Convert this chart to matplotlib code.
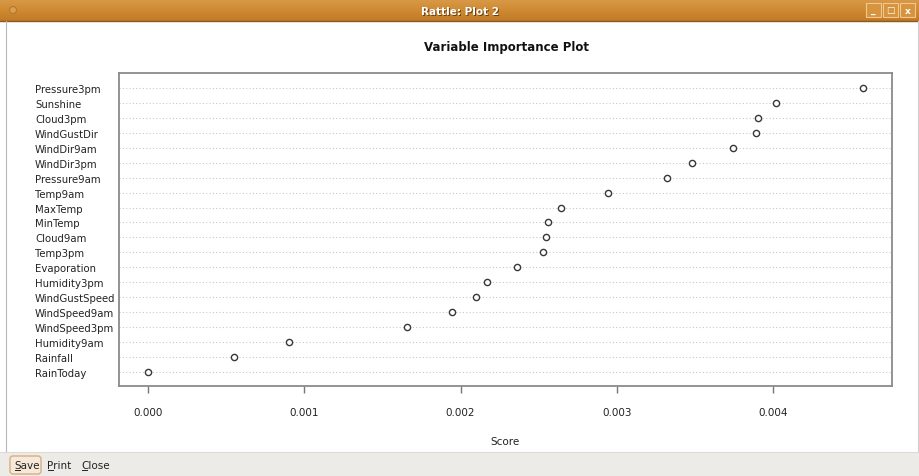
#!/usr/bin/env python3
import numpy as np
import matplotlib
matplotlib.use("Agg")
from matplotlib import pyplot as plt
from matplotlib.patches import Rectangle, FancyBboxPatch

W, H = 920, 477

variables = ["Pressure3pm", "Sunshine", "Cloud3pm", "WindGustDir", "WindDir9am",
             "WindDir3pm", "Pressure9am", "Temp9am", "MaxTemp", "MinTemp",
             "Cloud9am", "Temp3pm", "Evaporation", "Humidity3pm", "WindGustSpeed",
             "WindSpeed9am", "WindSpeed3pm", "Humidity9am", "Rainfall", "RainToday"]
scores = [0.004575, 0.004018, 0.003900, 0.003890, 0.003745,
          0.003480, 0.003320, 0.002940, 0.002642, 0.002559,
          0.002546, 0.002530, 0.002361, 0.002169, 0.002098,
          0.001945, 0.001657, 0.000899, 0.000550, 0.000000]
xticks = [0.000, 0.001, 0.002, 0.003, 0.004]
xtick_labels = ["0.000", "0.001", "0.002", "0.003", "0.004"]


def box(x0, y0, x1, y1):
	# pixel box -> figure fraction [left, bottom, width, height]
	return [x0 / W, 1 - y1 / H, (x1 - x0) / W, (y1 - y0) / H]


def drawWindow(fig):
	bg = fig.add_axes([0, 0, 1, 1], zorder=0)
	bg.set_xlim(0, W)
	bg.set_ylim(H, 0)
	bg.axis("off")

	# title bar gradient
	grad = np.linspace(0, 1, 50).reshape(-1, 1)
	cmap = matplotlib.colors.LinearSegmentedColormap.from_list(
		"bar", ["#d99a48", "#cf8a32", "#c27a26"])
	bg.imshow(grad, extent=(0, W, 22, 0), cmap=cmap, aspect="auto", zorder=1)
	bg.plot([0, W], [22, 22], color="#8c5a1c", lw=1, zorder=2)
	bg.add_patch(plt.Circle((13, 11), 3.5, facecolor="#d9a050", edgecolor="#b7772a", lw=0.8, zorder=3))
	bg.text(W / 2 + 1, 12 + 1, "Rattle: Plot 2", color="#6a4010", fontsize=7.5,
		fontweight="bold", ha="center", va="center", zorder=3)
	bg.text(W / 2, 12, "Rattle: Plot 2", color="white", fontsize=7.5,
		fontweight="bold", ha="center", va="center", zorder=4)
	for bx, glyph in zip([866, 883, 900], ["_", "\u25a1", "x"]):
		bg.add_patch(Rectangle((bx, 4), 15, 14, facecolor="#d69440", edgecolor="#f0c890", lw=0.8, zorder=3))
		bg.text(bx + 7.5, 11, glyph, color="white", fontsize=6.5, fontweight="bold",
			ha="center", va="center", zorder=4)

	# window borders
	bg.plot([6.5, 6.5], [22, 453], color="#b8b8b8", lw=0.8, zorder=2)
	bg.plot([918.5, 918.5], [22, 453], color="#d0d0d0", lw=0.8, zorder=2)

	# bottom button bar
	bg.add_patch(Rectangle((0, 453), W, H - 453, facecolor="#edebe7", edgecolor="none", zorder=1))
	bg.plot([0, W], [453, 453], color="#dedad4", lw=0.8, zorder=2)
	bg.add_patch(FancyBboxPatch((10, 457), 31, 18, boxstyle="round,pad=0,rounding_size=3",
		facecolor="#f6e9d9", edgecolor="#d8ae80", lw=1, zorder=2))
	for tx, label in zip([14, 47, 81], ["Save", "Print", "Close"]):
		bg.text(tx, 466, label, color="#222222", fontsize=7.5, ha="left", va="center", zorder=3)
		bg.plot([tx + 1, tx + 6.5], [470.5, 470.5], color="#222222", lw=0.7, zorder=3)


def drawPlot(fig):
	ax = fig.add_axes(box(119, 74, 892, 387), zorder=2)
	ypos = np.arange(len(variables))[::-1]
	for y in ypos:
		ax.axhline(y, color="#c8c8c8", lw=0.8, ls=(0, (1, 2)), zorder=1)
	ax.scatter(scores, ypos, s=20, facecolors="white", edgecolors="#383838", linewidths=1.0, zorder=3)

	ax.set_xlim((119 - 148) / 156300, (892 - 148) / 156300)
	ax.set_ylim(-0.96, len(variables) - 1 + 1.02)
	ax.set_xticks(xticks)
	ax.set_xticklabels(xtick_labels, fontsize=7.5, color="#222222")
	ax.set_yticks(ypos)
	ax.set_yticklabels(variables, fontsize=7.3, color="#222222", ha="left")
	ax.tick_params(axis="y", length=0, pad=84 * 0.72)
	ax.tick_params(axis="x", length=5, width=1, color="#777777", pad=10)
	for sp in ax.spines.values():
		sp.set_color("#8a8a8a")
		sp.set_linewidth(1.3)
	ax.set_xlabel("Score", fontsize=7.5, color="#222222", labelpad=14)

	fig.text(506 / W, 1 - 48 / H, "Variable Importance Plot", fontsize=8.5,
		fontweight="bold", ha="center", va="center", color="#111111")


def main():
	fig = plt.figure(figsize=(W / 100, H / 100), dpi=100, facecolor="white")
	drawWindow(fig)
	drawPlot(fig)
	fig.savefig("out.png", dpi=100, facecolor="white")


if __name__ == '__main__':
	main()
